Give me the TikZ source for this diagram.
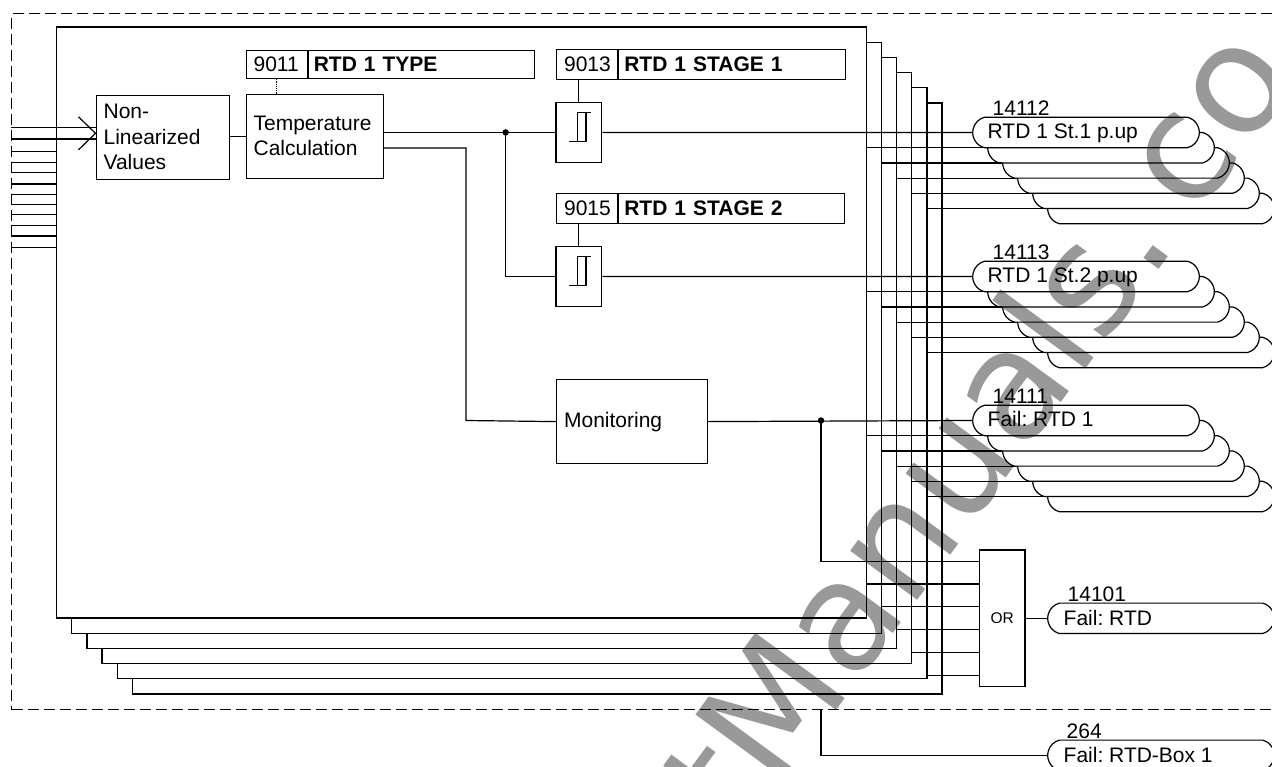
\documentclass[tikz,border=0pt]{standalone}
\usepackage{fontspec}
\setmainfont{Liberation Sans}
\newfontfamily\markfont{DejaVu Sans}
\usetikzlibrary{shapes.misc}

\begin{document}
\frenchspacing
\begin{tikzpicture}[
    x=1pt, y=-1pt,
    line width=1.2pt,
    font=\fontsize{21}{25.5}\selectfont,
    stackbox/.style={draw, fill=white, minimum width=809.8pt, minimum height=591pt, inner sep=0pt},
    blockbox/.style={draw, fill=white, anchor=north west, inner xsep=7.5pt, inner ysep=0pt, align=left},
    paramid/.style={blockbox, minimum height=30pt, text width=46pt},
    paramname/.style={blockbox, minimum height=30pt, inner xsep=5.5pt, font=\fontsize{21}{25.5}\selectfont\bfseries},
    stagebox/.style={draw, fill=white, minimum width=45.7pt, minimum height=60.6pt, inner sep=0pt},
    pill/.style={draw, fill=white, rounded rectangle, rounded rectangle arc length=150,
                 minimum width=226.6pt, minimum height=30.4pt, inner sep=0pt},
    pilltext/.style={anchor=base west, inner sep=0pt},
    junction/.style={circle, fill=black, inner sep=0pt, minimum size=6.5pt},
    hyst/.pic={
      \draw (-9.5,9.4) -- (7.2,9.4);
      \draw (-1.5,9.4) -- (-1.5,-20.3) -- (11.9,-20.3);
      \draw (7.2,9.4) -- (7.2,-20.3);
    }
  ]
  \path[use as bounding box, clip] (0,0) rectangle (1272,766);
  \fill[white] (0,0) rectangle (1272,766);

  % outer frame
  \node[draw, dashed, dash pattern=on 11pt off 5pt, anchor=north west, minimum width=1290pt,
        minimum height=696pt, inner sep=0pt] (frame) at (11,13) {};

  % stacked boxes
  \foreach \k in {5,4,3,2,1,0}
    \node[stackbox] (box\k) at ({461.6+15.1*\k},{322.5+15.2*\k}) {};

  % inputs
  \foreach \yy in {151.7,162.7,172.3,184,194.7,204.7,214.3,225.7,236,247.3}
    \draw (frame.west |- 0,\yy) -- (box0.west |- 0,\yy);

  % blocks
  \node[blockbox, text width=118.5pt, minimum height=83.5pt] (nonlin) at (95.5,95)
    {Non-\\Linearized\\Values};
  \node[blockbox, text width=122.5pt, minimum height=83.5pt, font=\fontsize{21}{25}\selectfont] (tempcalc) at (245.5,94)
    {Temperature\\Calculation\\[1pt]};
  \node[paramid, minimum height=28pt] (typeid) at (245.5,50) {9011};
  \node[paramname, minimum height=28pt, text width=215pt] (typename) at (typeid.north east) {RTD 1 TYPE};
  \node[paramid] (stoneid) at (556,49) {9013};
  \node[paramname, text width=216pt] (stonename) at (stoneid.north east) {RTD 1 STAGE 1};
  \node[paramid] (sttwoid) at (556,193) {9015};
  \node[paramname, text width=215pt] (sttwoname) at (sttwoid.north east) {RTD 1 STAGE 2};
  \node[stagebox] (stone) at (578.8,132.4) {};
  \node[stagebox] (sttwo) at (578.8,276.4) {};
  \pic at (stone.center) {hyst};
  \pic at (sttwo.center) {hyst};
  \node[blockbox, text width=136pt, minimum height=84pt] (monitor) at (556,379) {Monitoring};
  \node[draw, fill=white, minimum width=45.7pt, minimum height=136.7pt, inner sep=0pt,
        font=\fontsize{15.5}{18}\selectfont] (orgate) at (1002.2,618.3) {OR};

  % output annunciations
  \foreach \gid/\gy/\gnum/\gtext in {stp/132.5/14112/RTD 1 St.1 p.up,
      sts/276.5/14113/RTD 1 St.2 p.up, flt/420.5/14111/Fail: RTD 1} {
    \foreach \k in {5,4,3,2,1,0}
      \node[pill] (\gid-\k) at ({1086+15*\k},{\gy+15.2*\k}) {};
    \foreach \k [evaluate=\k as \j using int(\k-1)] in {1,...,5}
      \draw (box\j.east |- \gid-\k.west) -- (\gid-\k.west);
    \node[pilltext] (\gid-text) at ([shift={(15,5.8)}]\gid-0.west) {\gtext};
    \node[pilltext] (\gid-num) at ([shift={(20,-17.5)}]\gid-0.west) {\gnum};
  }
  \node[pill] (failrtd) at (1161,618.3) {};
  \node[pilltext] (failrtd-text) at ([shift={(16,6.7)}]failrtd.west) {Fail: RTD};
  \node[pilltext] (failrtd-num) at ([shift={(20,-16.6)}]failrtd.west) {14101};
  \node[pill] (failbox) at (1161,755.3) {};
  \node[pilltext] (failbox-text) at ([shift={(16,6.7)}]failbox.west) {Fail: RTD-Box 1};
  \node[pilltext] (failbox-num) at ([shift={(19,-17.3)}]failbox.west) {264};

  % connectors
  \coordinate (bustip) at (95.5,133.3);
  \coordinate (stjoin) at (505.7,132.4);
  \coordinate (failjoin) at (821,420.5);
  \coordinate (frametap) at (821,709);
  \draw (frame.west |- 0,127.7) -- (bustip |- 0,127.7);
  \draw (frame.west |- 0,139) -- (bustip |- 0,139);
  \draw ([shift={(-17,-16.5)}]bustip) -- (bustip) -- ([shift={(-17,16.5)}]bustip);
  \draw (nonlin.east |- tempcalc.west) -- (tempcalc.west);
  \draw[densely dotted] (typeid.south -| 276.5,0) -- (tempcalc.north -| 276.5,0);
  \draw (stone.north |- stoneid.south) -- (stone.north);
  \draw (sttwo.north |- sttwoid.south) -- (sttwo.north);
  \draw (tempcalc.east |- stjoin) -- (stone.west);
  \draw (stjoin) |- (sttwo.west);
  \draw (tempcalc.east |- 0,148) -| (466,420.5) -- (monitor.west);
  \draw (stone.east) -- (stp-0.west);
  \draw (sttwo.east) -- (sts-0.west);
  \draw (monitor.east) -- (flt-0.west);
  \draw (failjoin) |- (orgate.west |- 0,561.3);
  \foreach \k/\yy in {0/584,1/606.7,2/629.3,3/652.3,4/675.3}
    \draw (box\k.east |- 0,\yy) -- (orgate.west |- 0,\yy);
  \draw (orgate.east) -- (failrtd.west);
  \draw (frametap) |- (failbox.west);
  \node[junction] (stdot) at (stjoin) {};
  \node[junction] (faildot) at (failjoin) {};

  % watermark
  \begin{scope}[blend mode=multiply]
    \node[rotate=53.8, anchor=base west, inner sep=0pt, text=black!40,
          font=\fontsize{152}{152}\markfont] (mark) at (741,841) {tManuals.\kern 30pt co};
  \end{scope}
\end{tikzpicture}
\end{document}
